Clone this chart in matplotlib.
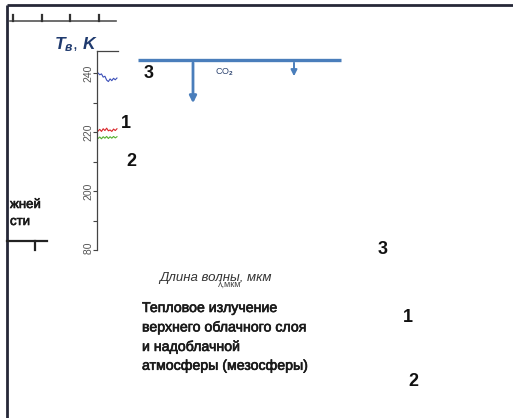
import numpy as np
import matplotlib
matplotlib.use("Agg")
import matplotlib.pyplot as plt
import matplotlib.patheffects as pe
from matplotlib.transforms import Bbox

plt.rcParams['font.family'] = ['Liberation Sans', 'DejaVu Sans']
plt.rcParams['mathtext.fontset'] = 'custom'
plt.rcParams['mathtext.it'] = 'Liberation Sans:italic:bold'
plt.rcParams['mathtext.rm'] = 'Liberation Sans:bold'

# Brightness temperature fragments (K) against wavelength step
wavelength = [0, 1, 2, 3, 4, 5, 6, 7, 8, 9, 10, 11]
temp_top = [240.0, 239.4, 239.7, 238.6, 238.9, 237.6, 237.1, 238.0, 237.4, 238.2, 237.7, 238.3]
temp_1 = [220.3, 220.9, 220.2, 221.1, 220.5, 221.3, 220.4, 220.7, 220.2, 221.0, 220.5, 221.1]
temp_2 = [217.8, 218.3, 217.7, 218.4, 217.9, 218.5, 217.8, 218.4, 217.9, 218.5, 218.0, 218.4]
series_colors = ['#3b4fb8', '#d9262a', '#55b030']

t_ticks = [180, 190, 200, 210, 220, 230, 240]
t_labels = ['180', '', '200', '', '220', '', '240']

W, H = 513, 418
fig = plt.figure(figsize=(W / 100, H / 100), dpi=100)

# Overlay in pixel coordinates for frame, arrows and captions
ov = fig.add_axes([0, 0, 1, 1])
ov.set_xlim(0, W)
ov.set_ylim(H, 0)
ov.axis('off')

frame = '#262838'
ov.plot([7, W], [5, 5], color=frame, lw=2.0, solid_capstyle='butt')
ov.plot([7, 7], [5, H], color=frame, lw=2.0, solid_capstyle='butt')

# Upper scale strip
ov.plot([10, 116], [21, 21], color='#555555', lw=1.2)
for xt in [13, 42, 70, 99]:
    ov.plot([xt, xt], [21, 15], color='#333333', lw=1.6)

# Lower-left scale fragment
ov.plot([7, 47], [241, 241], color='#222222', lw=1.6)
ov.plot([35, 35], [241, 250], color='#222222', lw=1.6)
bold_fx = [pe.withStroke(linewidth=0.45, foreground='#1a1a1a')]
for yy, s in [(205, 'жней'), (222, 'сти')]:
    ov.text(10, yy, s, ha='left', va='center', fontsize=9.5, color='#1a1a1a',
            path_effects=bold_fx)

# CO2 band line with arrows
co2 = '#4a7ebb'
ov.plot([138, 341], [60, 60], color=co2, lw=2.4, solid_capstyle='butt')
ov.annotate('', xy=(193, 106), xytext=(193, 60),
            arrowprops=dict(arrowstyle='-|>', color=co2, lw=2.0, mutation_scale=10))
ov.annotate('', xy=(294, 79), xytext=(294, 60),
            arrowprops=dict(arrowstyle='-|>', color=co2, lw=1.4, mutation_scale=9))
ov.text(215, 72, 'CO$_2$', fontsize=6.5, color='#2d4470', va='center', ha='left')

num_kw = dict(fontsize=13, fontweight='bold', color='#111111', ha='center', va='center')
ov.text(149, 73, '3', **num_kw)
ov.text(126, 124, '1', **num_kw)
ov.text(131, 162, '2', **num_kw)
ov.text(383, 249, '3', **num_kw)
ov.text(408, 317, '1', **num_kw)
ov.text(413, 382, '2', **num_kw)

ov.text(215, 278, 'Длина волны, мкм', fontsize=9.5, style='italic', color='#333333',
        ha='center', va='center')
ov.text(230, 284, 'λ,мкм', fontsize=6.5, color='#444444', ha='center', va='center')

ov.text(142, 301, 'Тепловое излучение\nверхнего облачного слоя\nи надоблачной\nатмосферы (мезосферы)',
        fontsize=10.2, color='#1a1a1a', ha='left', va='top',
        linespacing=1.44, path_effects=bold_fx)

ov.text(76, 45, r'$T_{в}$, $K$', fontsize=12.5, color='#1f3a6e', ha='center', va='center')

# Temperature panel
y0_px, y1_px = 250, 51
t_lo = 180.0
t_hi = t_lo + (y0_px - y1_px) / 29.5 * 10
x_left, x_right = 97, 118
ax = fig.add_axes([x_left / W, (H - y0_px) / H, (x_right - x_left) / W, (y0_px - y1_px) / H])
ax.set_facecolor('none')
ax.set_ylim(t_lo, t_hi)
ax.set_xlim(-0.6, 11.6)
for s in ['right', 'bottom']:
    ax.spines[s].set_visible(False)
ax.spines['left'].set_color('#444444')
ax.spines['left'].set_linewidth(0.9)
ax.spines['top'].set_color('#444444')
ax.spines['top'].set_linewidth(0.9)
ax.set_xticks([])
ax.set_yticks(t_ticks)
ax.set_yticklabels(t_labels)
ax.tick_params(axis='y', direction='out', length=3, width=0.8, color='#444444',
               labelsize=7.5, labelcolor='#555555', pad=-0.5)
for lab in ax.get_yticklabels():
    lab.set_rotation(90)
    lab.set_va('center')
    lab.set_clip_on(True)
    lab.set_clip_box(Bbox.from_extents(0, H - 254.5, W, H))

for vals, c in zip([temp_top, temp_1, temp_2], series_colors):
    ax.plot(wavelength, vals, color=c, lw=0.8)

fig.savefig('out.png', dpi=100)
